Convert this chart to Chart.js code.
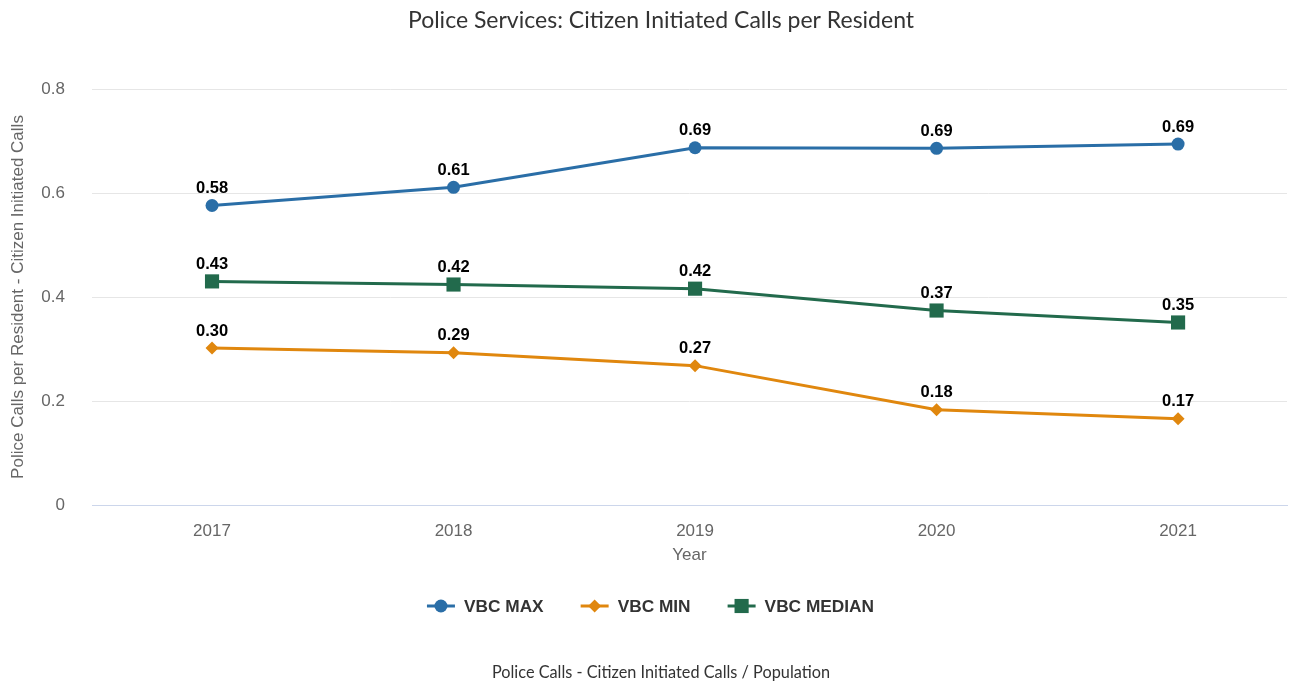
<!DOCTYPE html>
<html>
<head>
<meta charset="utf-8">
<script src="https://cdn.jsdelivr.net/npm/chart.js@4/dist/chart.umd.min.js"></script>
<style>
  html, body { margin: 0; padding: 0; background: #fff; }
  #wrap { width: 1301px; height: 686px; }
</style>
</head>
<body>
<div id="wrap"><canvas id="calls" width="1301" height="686"></canvas></div>
<script>
const years = ['2017', '2018', '2019', '2020', '2021'];
const vbcMax = [0.576, 0.611, 0.687, 0.686, 0.694];
const vbcMin = [0.302, 0.293, 0.268, 0.183, 0.166];
const vbcMedian = [0.430, 0.424, 0.416, 0.374, 0.351];
const yTicks = [0, 0.2, 0.4, 0.6, 0.8];

const titleText = 'Police Services: Citizen Initiated Calls per Resident';
const footerText = 'Police Calls - Citizen Initiated Calls / Population';

const series = [
  { label: 'VBC MAX', data: vbcMax, color: '#2a6ea7', style: 'circle', radius: 6.5 },
  { label: 'VBC MIN', data: vbcMin, color: '#e0870e', style: 'rectRot', radius: 6.5 },
  { label: 'VBC MEDIAN', data: vbcMedian, color: '#226a4c', style: 'rect', radius: 10 }
];

const sans = '"Liberation Sans", Arial, sans-serif';

function marker(ctx, style, x, y, r) {
  ctx.beginPath();
  if (style === 'circle') {
    ctx.arc(x, y, r, 0, Math.PI * 2);
  } else if (style === 'rectRot') {
    ctx.moveTo(x - r, y); ctx.lineTo(x, y - r); ctx.lineTo(x + r, y); ctx.lineTo(x, y + r);
    ctx.closePath();
  } else {
    const s = r * Math.SQRT1_2;
    ctx.rect(x - s, y - s, 2 * s, 2 * s);
  }
  ctx.fill();
}

const extras = {
  id: 'extras',
  afterDatasetsDraw(chart) {
    const ctx = chart.ctx;
    ctx.save();
    // point labels
    ctx.font = 'bold 16.5px ' + sans;
    ctx.fillStyle = '#000';
    ctx.textAlign = 'center';
    ctx.textBaseline = 'middle';
    chart.data.datasets.forEach((ds, i) => {
      chart.getDatasetMeta(i).data.forEach((pt, j) => {
        ctx.fillText(ds.data[j].toFixed(2), pt.x, pt.y - 17);
      });
    });
    ctx.restore();
  },
  afterDraw(chart) {
    const ctx = chart.ctx;
    ctx.save();
    // title + footer
    ctx.fillStyle = '#333';
    ctx.textAlign = 'center';
    ctx.textBaseline = 'middle';
    ctx.font = '23px Lato, "Open Sans", sans-serif';
    ctx.fillText(titleText, 661, 21);
    ctx.font = '16.3px Lato, "Open Sans", sans-serif';
    ctx.fillText(footerText, 661, 673);

    // legend
    ctx.font = 'bold 17.3px ' + sans;
    const sym = 28, gapText = 9, gapItem = 37;
    const widths = series.map(s => sym + gapText + ctx.measureText(s.label).width);
    const total = widths.reduce((a, b) => a + b, 0) + gapItem * (series.length - 1);
    let x = 650.5 - total / 2;
    const y = 606;
    series.forEach((s, i) => {
      ctx.strokeStyle = s.color;
      ctx.fillStyle = s.color;
      ctx.lineWidth = 3;
      ctx.beginPath();
      ctx.moveTo(x, y); ctx.lineTo(x + sym, y);
      ctx.stroke();
      marker(ctx, s.style, x + sym / 2, y, s.style === 'rect' ? 10 : 6.5);
      ctx.fillStyle = '#333';
      ctx.textAlign = 'left';
      ctx.fillText(s.label, x + sym + gapText, y + 1);
      x += widths[i] + gapItem;
    });
    ctx.restore();
  }
};

new Chart('calls', {
  type: 'line',
  data: {
    labels: years,
    datasets: series.map(s => ({
      label: s.label,
      data: s.data,
      borderColor: s.color,
      backgroundColor: s.color,
      borderWidth: 3,
      pointStyle: s.style,
      pointRadius: s.radius,
      pointHoverRadius: s.radius,
      pointBorderWidth: 0,
      tension: 0,
      fill: false
    }))
  },
  options: {
    responsive: false,
    animation: false,
    layout: { padding: { top: 89, bottom: 116, left: 0, right: 14 } },
    plugins: {
      legend: { display: false },
      title: { display: false },
      tooltip: { enabled: false }
    },
    scales: {
      x: {
        type: 'linear',
        min: 2016.503,
        max: 2021.451,
        afterBuildTicks: scale => { scale.ticks = years.map(v => ({ value: Number(v) })); },
        afterFit: scale => { scale.height = 65; },
        grid: { display: false, drawTicks: false },
        border: { display: true, color: '#ccd6eb', width: 1 },
        ticks: { color: '#666', font: { size: 17, family: sans }, padding: 16, callback: v => String(v) },
        title: { display: true, text: 'Year', color: '#666', font: { size: 17, family: sans }, padding: { top: 6, bottom: 4 } }
      },
      y: {
        min: 0,
        max: 0.8,
        afterBuildTicks: scale => { scale.ticks = yTicks.map(v => ({ value: v })); },
        afterFit: scale => { scale.width = 92; },
        grid: { color: ctx => ctx.tick && ctx.tick.value === 0 ? '#ccd6eb' : '#e6e6e6', drawTicks: false },
        border: { display: false },
        ticks: {
          color: '#666',
          font: { size: 17, family: sans },
          padding: 27,
          callback: v => v === 0 ? '0' : v.toFixed(1)
        },
        title: {
          display: true,
          text: 'Police Calls per Resident - Citizen Initiated Calls',
          color: '#666',
          font: { size: 17, family: sans },
          padding: { top: 8, bottom: 4 }
        }
      }
    }
  },
  plugins: [extras]
});
</script>
</body>
</html>
